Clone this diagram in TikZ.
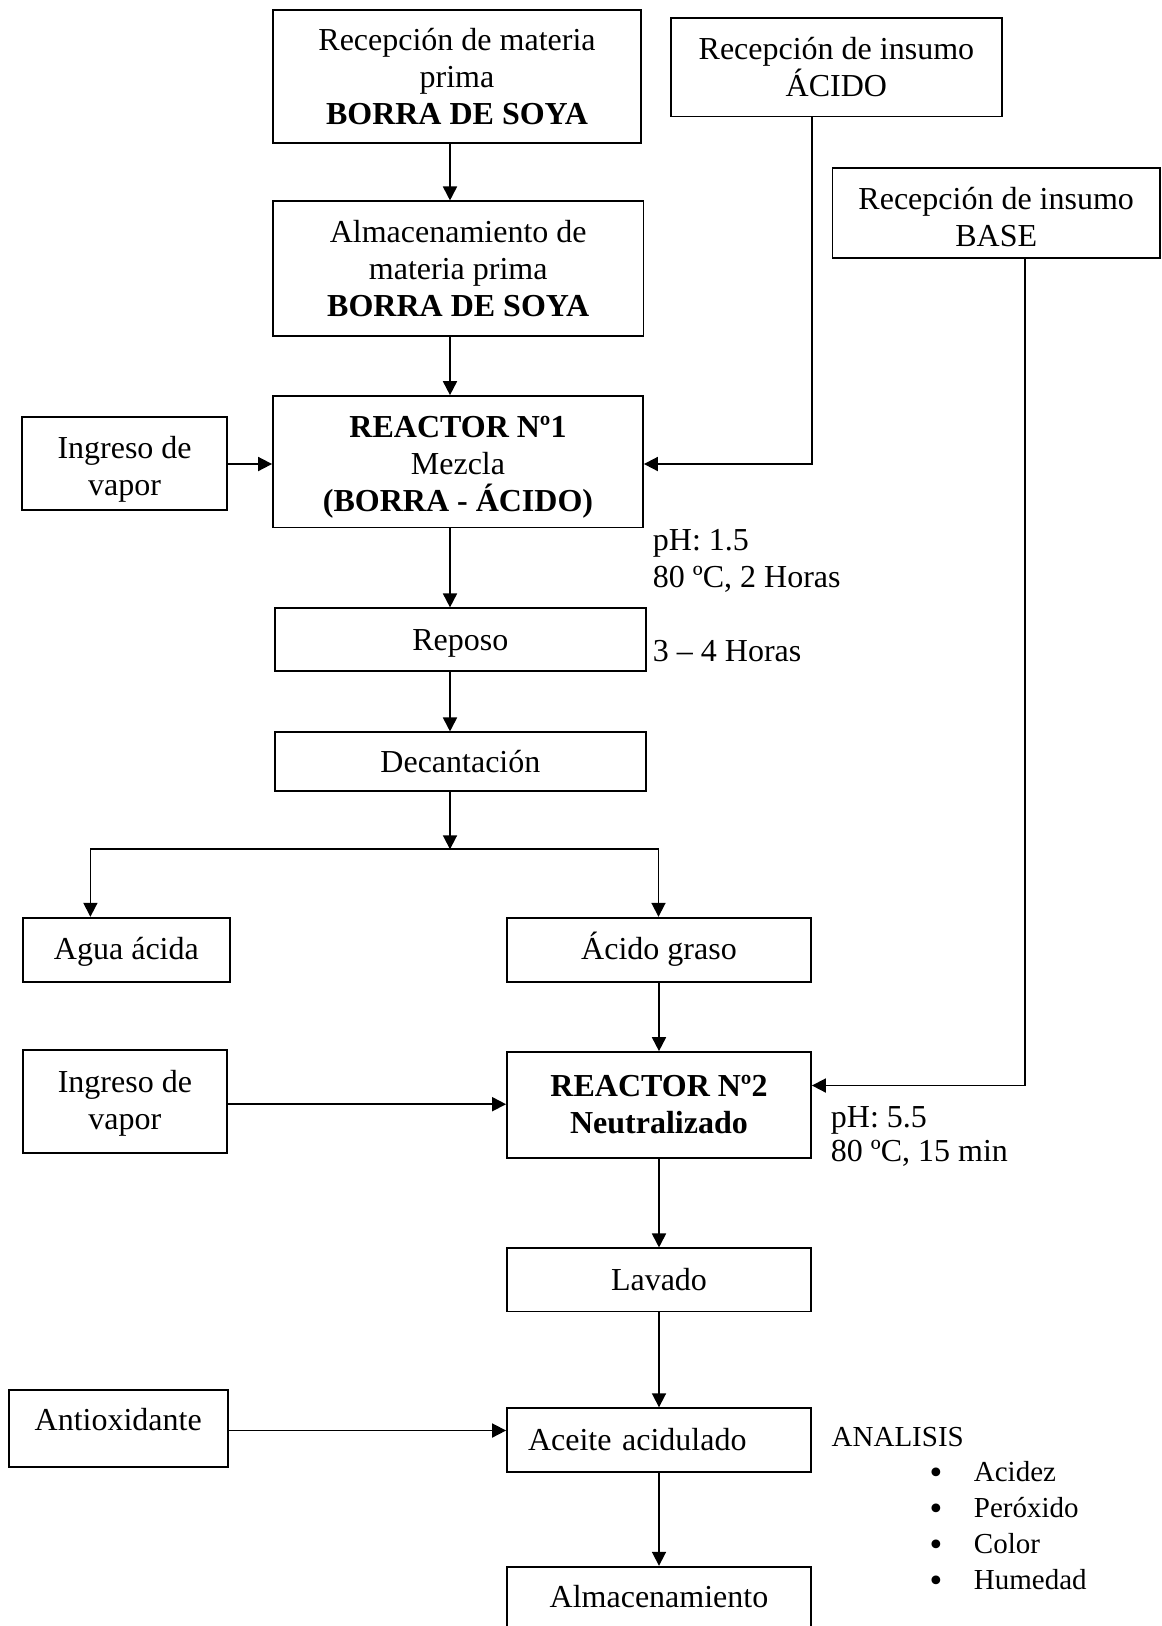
\documentclass[tikz,border=0pt]{standalone}
\usepackage{fontspec}
\setmainfont{Liberation Serif}
\newfontfamily\dotfont{DejaVu Sans}
\usetikzlibrary{arrows.meta}
\tikzset{
  box/.style={draw, line width=1.8pt, align=center, inner sep=0pt,
    font=\fontsize{32}{37}\selectfont},
  arr/.style={line width=1.8pt, -{Triangle[length=14pt,width=14pt]}},
  note/.style={anchor=base west, inner sep=0pt, font=\fontsize{32}{37}\selectfont},
  smallnote/.style={anchor=base west, inner sep=0pt, font=\fontsize{29}{35}\selectfont},
  dot/.style={anchor=base, inner sep=0pt, font=\dotfont\fontsize{30}{32}\selectfont}
}
\begin{document}
\begin{tikzpicture}[x=1pt,y=-1pt]
\useasboundingbox (0,0) rectangle (1162,1626);
\fill[white] (0,0) rectangle (1162,1626);

% left column
\node[box, minimum width=368pt, minimum height=133.7pt] (rmp) at (457,76.5)
  {Recepción de materia\\prima\\\textbf{BORRA DE SOYA}};
\node[box, minimum width=370.5pt, minimum height=134.3pt] (amp) at (458.2,268.5)
  {Almacenamiento de\\materia prima\\\textbf{BORRA DE SOYA}};
\node[box, minimum width=370pt, minimum height=131.5pt] (r1) at (458,461.8)
  {\rule{0pt}{33pt}\textbf{REACTOR Nº1}\\Mezcla\\\textbf{(BORRA - ÁCIDO)}};
\node[box, minimum width=370.7pt, minimum height=63pt, text height=29pt] (reposo) at (460.4,639.8) {Reposo};
\node[box, minimum width=370.7pt, minimum height=58.7pt] (decant) at (460.4,761.7) {Decantación};

% inputs
\node[box, minimum width=330.7pt, minimum height=98.5pt] (acido) at (836.4,67.2)
  {Recepción de insumo\\ÁCIDO};
\node[box, minimum width=327.6pt, minimum height=89.9pt] (base) at (996.2,212.7)
  {\rule{0pt}{30pt}Recepción de insumo\\BASE};
\node[box, minimum width=204.8pt, minimum height=93.6pt] (v1) at (124.6,463.5)
  {\rule{0pt}{34pt}Ingreso de\\vapor};

% split results
\node[box, minimum width=206.8pt, minimum height=64pt, text height=27pt] (agua) at (126.4,949.7) {Agua ácida};
\node[box, minimum width=304pt, minimum height=64pt] (agraso) at (659,949.7) {Ácido graso};

% second column
\node[box, minimum width=304pt, minimum height=105.7pt] (r2) at (659,1104.9)
  {\textbf{REACTOR Nº2}\\\textbf{Neutralizado}};
\node[box, minimum width=203.8pt, minimum height=102.6pt] (v2) at (124.9,1101.6)
  {\rule{0pt}{26pt}Ingreso de\\vapor};
\node[box, minimum width=304pt, minimum height=63.1pt] (lavado) at (659,1279.9) {Lavado};
\node[box, minimum width=219pt, minimum height=77.3pt, text height=22pt, text depth=19pt]
  (antiox) at (118.2,1428.6) {Antioxidante};
\node[box, minimum width=304pt, minimum height=63.6pt, text width=262pt, align=left]
  (aceite) at (659,1440) {Aceite acidulado};
\node[box, minimum width=304pt, minimum height=80pt, text height=22pt, text depth=21pt]
  (almf) at (659,1606.7) {Almacenamiento};

% annotations
\node[note] (ph1) at (652.7,550.3) {pH: 1.5};
\node[note] (tc1) at (652.7,587) {80 ºC, 2 Horas};
\node[note] (tr) at (652.7,661.3) {3 – 4 Horas};
\node[note] (ph2) at (830.7,1127.3) {pH: 5.5};
\node[note] (tc2) at (830.7,1161.7) {80 ºC, 15 min};
\node[smallnote] (anal) at (831.5,1446) {ANALISIS};
\node[dot] (b1) at (936,1483.8) {•};
\node[dot] (b2) at (936,1519.8) {•};
\node[dot] (b3) at (936,1555.8) {•};
\node[dot] (b4) at (936,1591.8) {•};
\node[smallnote] (i1) at (973.7,1481.7) {Acidez};
\node[smallnote] (i2) at (973.7,1517.7) {Peróxido};
\node[smallnote] (i3) at (973.7,1553.3) {Color};
\node[smallnote] (i4) at (973.7,1589.3) {Humedad};

% helper coordinates
\coordinate (c1) at (450,0);
\coordinate (split) at (450,849.3);
\coordinate (sl) at (90.4,849.3);
\coordinate (sr) at (658.5,849.3);
\coordinate (ka) at (811.6,464);
\coordinate (kb) at (1025,1085.5);
\coordinate (kv2) at (0,1104.2);
\coordinate (ko) at (0,1430.5);

% connectors
\draw[arr] (rmp.south -| c1) -- (amp.north -| c1);
\draw[arr] (amp.south -| c1) -- (r1.north -| c1);
\draw[arr] (r1.south -| c1) -- (reposo.north -| c1);
\draw[arr] (reposo.south -| c1) -- (decant.north -| c1);
\draw[arr] (decant.south -| c1) -- (split);
\draw[arr] (sr) -- (sl) -- (agua.north -| sl);
\draw[arr] (sr) -- (agraso.north -| sr);
\draw[arr] (acido.south -| ka) -- (ka) -- (r1.east |- ka);
\draw[arr] (v1.east |- ka) -- (r1.west |- ka);
\draw[arr] (agraso.south) -- (r2.north);
\draw[arr] (base.south -| kb) -- (kb) -- (r2.east |- kb);
\draw[arr] (v2.east |- kv2) -- (r2.west |- kv2);
\draw[arr] (r2.south) -- (lavado.north);
\draw[arr] (lavado.south) -- (aceite.north);
\draw[arr] (antiox.east |- ko) -- (aceite.west |- ko);
\draw[arr] (aceite.south) -- (almf.north);
\end{tikzpicture}
\end{document}
